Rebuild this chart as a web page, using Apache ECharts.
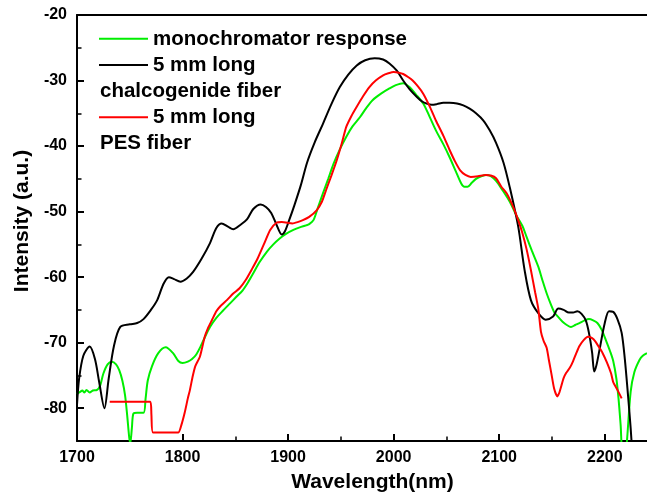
<!DOCTYPE html>
<html><head><meta charset="utf-8">
<script src="https://cdn.jsdelivr.net/npm/echarts@6/dist/echarts.min.js"></script>
<style>html,body{margin:0;padding:0;background:#fff}#c{width:647px;height:498px}</style>
</head><body><div id="c"></div>
<script>
// ---- data ----
const xTicks = [1700, 1800, 1900, 2000, 2100, 2200];
const xMinorTicks = [1750, 1850, 1950, 2050, 2150];
const yTicks = [-80, -70, -60, -50, -40, -30, -20];
const yMinorTicks = [-75, -65, -55, -45, -35, -25];

const seriesNames = ['monochromator response', '5 mm long chalcogenide fiber', '5 mm long PES fiber'];

// monochromator response (green)
const greenX = [1700,1703,1705,1707,1709,1712,1715,1719,1722,1725,1729,1733,1737,1740,1743,1745.5,1747.5,1749.5,1750.5,1752,1753.5,1757,1763,1765,1767,1771,1777,1784,1791,1796,1800,1805,1809,1813,1817,1821,1826,1832,1839,1845,1851,1857,1862,1867,1873,1880,1886,1892,1898,1905,1911,1917,1920,1924,1928,1933,1938,1943,1949,1955,1961,1968,1974,1980,1988,1996,2002,2009,2015,2021,2028,2034,2040,2047,2053,2059,2064,2067,2070,2074,2078,2083,2088,2092,2097,2103,2110,2116,2122,2126,2131,2137,2141,2145,2149,2152,2156,2160,2164,2168,2172,2176,2181,2185,2189,2193,2197,2201,2205,2208,2211,2213,2215,2217,2219.5,2221,2224.5,2228,2233,2236,2240];
const greenY = [-77.8,-77.5,-77.3,-77.6,-77.2,-77.6,-77.3,-77.2,-76.5,-74.7,-73.3,-72.9,-73.3,-74.2,-75.8,-78,-81,-84.5,-85.3,-83,-80.8,-80.7,-80.7,-78.5,-75.8,-73.6,-71.6,-70.7,-71.6,-72.8,-73.1,-72.9,-72.5,-71.8,-70.6,-69.2,-67.6,-66.2,-65.0,-64.0,-63.0,-62.0,-60.8,-59.4,-57.7,-56.1,-55.0,-54.1,-53.4,-52.8,-52.4,-52.1,-51.9,-51.3,-49.5,-47.2,-45.0,-42.7,-40.5,-38.6,-37.0,-35.6,-34.2,-33.0,-32.0,-31.2,-30.7,-30.4,-31.0,-32.1,-33.5,-35.5,-37.6,-39.7,-41.7,-43.9,-45.7,-46.2,-46.2,-45.6,-45.0,-44.6,-44.4,-44.6,-45.3,-46.7,-48.5,-50.5,-52.2,-53.9,-56.0,-58.4,-60.5,-62.5,-64.2,-65.3,-66.1,-66.8,-67.3,-67.6,-67.3,-67.0,-66.6,-66.4,-66.6,-67.0,-68.0,-69.6,-71.3,-72.8,-75.5,-78.5,-82.5,-87,-87,-85,-77.5,-74.5,-72.6,-72.0,-71.6];

// 5 mm long chalcogenide fiber (black)
const blackX = [1700,1702,1706,1712,1717,1721,1726,1730,1735,1741,1750,1757,1763,1770,1776,1782,1787,1792,1798,1804,1810,1818,1826,1832,1837,1843,1848,1855,1861,1867,1874,1879,1884,1889,1894,1897,1901,1906,1912,1918,1925,1933,1941,1949,1957,1965,1973,1982,1990,1996,2003,2009,2015,2022,2027,2031,2036,2041,2047,2053,2060,2066,2072,2078,2085,2091,2097,2104,2110,2118,2124,2130,2137,2144,2151,2156,2161,2166,2170,2174,2178,2182,2185,2188,2190,2192,2195,2200,2204,2208,2212,2216,2219,2222,2224.5,2226.5];
const blackY = [-79.5,-75.5,-72,-70.6,-72.5,-76,-80,-75.5,-70.5,-67.6,-67.2,-67.0,-66.4,-65,-63.5,-61,-60.0,-60.3,-60.7,-60.2,-59.2,-57.2,-54.8,-52.5,-51.8,-52.3,-52.7,-52.0,-51.2,-49.6,-48.9,-49.3,-50.2,-52.0,-53.5,-53.0,-51.3,-49.0,-46.0,-42.5,-39.5,-36.6,-33.6,-31.0,-29.1,-27.7,-26.9,-26.6,-26.8,-27.4,-28.5,-30.0,-31.3,-32.5,-33.2,-33.5,-33.7,-33.6,-33.4,-33.4,-33.5,-33.8,-34.3,-35.0,-36.1,-37.6,-39.5,-42.5,-46.3,-52.3,-58.9,-63.5,-65.5,-66.5,-66.0,-64.8,-65.0,-65.4,-65.4,-65.2,-65.6,-66.6,-68.5,-71.5,-74.4,-73.5,-71.1,-67.0,-65.2,-65.3,-66.4,-68.5,-72.5,-78,-83,-88];

// 5 mm long PES fiber (red)
const redX = [1731,1750,1769.5,1770.5,1772,1785,1796,1799,1802,1805,1807,1809.5,1812,1816.5,1821,1824,1828,1832,1836,1842,1848,1854,1860,1866,1871,1877,1883,1889,1894,1899,1904,1909,1914,1920,1927,1932,1936,1941,1946,1951,1955,1960,1965,1971,1977,1983,1990,1995,2000,2005,2009,2014,2018,2023,2028,2034,2040,2047,2053,2058,2063,2068,2073,2080,2087,2092,2097,2102,2107,2113,2118,2122,2126,2130,2134,2137,2139.5,2142,2145,2147,2149.5,2152,2155,2157,2159,2161,2163.5,2167,2170,2173,2176,2180,2184,2188,2191,2195,2198,2202,2206,2208,2212,2216];
const redY = [-79.0,-79.0,-79.0,-81,-83.7,-83.7,-83.7,-82.5,-80.7,-78.5,-77.2,-75.2,-73.6,-72.1,-69.1,-67.8,-66.5,-65.2,-64.4,-63.5,-62.5,-61.7,-60.4,-58.7,-57.2,-55.0,-52.8,-51.7,-51.6,-51.7,-51.8,-51.6,-51.3,-50.8,-49.8,-48.5,-46.7,-44.5,-42.2,-39.5,-37.1,-35.4,-34.0,-32.4,-31.0,-30.0,-29.2,-28.9,-28.7,-28.8,-29.0,-29.5,-30.0,-30.9,-32.0,-33.9,-36.1,-38.4,-40.6,-42.3,-43.7,-44.4,-44.7,-44.6,-44.4,-44.5,-44.9,-46.2,-47.2,-49.2,-51.3,-53.3,-55.8,-58.9,-62.3,-64.8,-68.3,-69.7,-70.8,-72.6,-74.8,-77.0,-78.2,-77.6,-76.5,-75.4,-74.6,-73.8,-72.8,-71.6,-70.5,-69.6,-69.1,-69.3,-69.8,-70.8,-71.6,-73.0,-74.7,-76.0,-77.2,-78.5];

const legendLines = ['monochromator response', '5 mm long', 'chalcogenide fiber', '5 mm long', 'PES fiber'];
// ---- end data ----

const FONT = 'Arial, "Liberation Sans", sans-serif';
const colors = ['#00ee00', '#000000', '#ff0000'];
const pair = (xs, ys) => xs.map((x, i) => [x, ys[i]]);

const chart = echarts.init(document.getElementById('c'), null, {renderer: 'canvas'});

const axisLineStyle = {color: '#000', width: 2};
const labelStyle = {fontSize: 16, fontWeight: 'bold', color: '#000', fontFamily: FONT};
const legendFont = 'bold 20.5px ' + FONT;

const option = {
  animation: false,
  backgroundColor: '#fff',
  grid: {left: 77, right: 0, top: 15, bottom: 56, containLabel: false},
  xAxis: [
    {
      type: 'value', min: 1700, max: 2240, position: 'bottom',
      name: 'Wavelength(nm)', nameLocation: 'middle', nameGap: 31,
      nameTextStyle: {fontSize: 21, fontWeight: 'bold', color: '#000', fontFamily: FONT, padding: [0, 0, 0, 21]},
      axisLine: {lineStyle: axisLineStyle},
      axisTick: {inside: true, length: 7, customValues: xTicks, lineStyle: {color: '#000', width: 2}},
      axisLabel: Object.assign({customValues: xTicks, margin: 9, formatter: v => String(v)}, labelStyle),
      splitLine: {show: false}
    },
    {
      type: 'value', min: 1700, max: 2240, position: 'bottom',
      axisLine: {show: false},
      axisTick: {inside: true, length: 4.5, customValues: xMinorTicks, lineStyle: {color: '#000', width: 1.5}},
      axisLabel: {show: false}, splitLine: {show: false}
    },
    {
      type: 'value', min: 1700, max: 2240, position: 'top',
      axisLine: {lineStyle: axisLineStyle},
      axisTick: {show: false}, axisLabel: {show: false}, splitLine: {show: false}
    }
  ],
  yAxis: [
    {
      type: 'value', min: -85, max: -20, position: 'left',
      name: 'Intensity (a.u.)', nameLocation: 'middle', nameGap: 43,
      nameTextStyle: {fontSize: 21, fontWeight: 'bold', color: '#000', fontFamily: FONT, padding: [0, 0, 0, 14]},
      axisLine: {lineStyle: axisLineStyle},
      axisTick: {inside: true, length: 7, customValues: yTicks, lineStyle: {color: '#000', width: 2}},
      axisLabel: Object.assign({customValues: yTicks, margin: 10, formatter: v => String(v)}, labelStyle),
      splitLine: {show: false}
    },
    {
      type: 'value', min: -85, max: -20, position: 'left',
      axisLine: {show: false},
      axisTick: {inside: true, length: 4.5, customValues: yMinorTicks, lineStyle: {color: '#000', width: 1.5}},
      axisLabel: {show: false}, splitLine: {show: false}
    }
  ],
  series: [
    {name: seriesNames[0], type: 'line', data: pair(greenX, greenY), xAxisIndex: 0, yAxisIndex: 0,
     showSymbol: false, symbol: 'none', smooth: 0.3, clip: true, lineStyle: {color: colors[0], width: 2}, z: 3},
    {name: seriesNames[1], type: 'line', data: pair(blackX, blackY), xAxisIndex: 0, yAxisIndex: 0,
     showSymbol: false, symbol: 'none', smooth: 0.3, clip: true, lineStyle: {color: colors[1], width: 2}, z: 4},
    {name: seriesNames[2], type: 'line', data: pair(redX, redY), xAxisIndex: 0, yAxisIndex: 0,
     showSymbol: false, symbol: 'none', smooth: 0.2, clip: true, lineStyle: {color: colors[2], width: 2}, z: 5}
  ],
  graphic: [
    {type: 'line', shape: {x1: 99, y1: 38.7, x2: 148, y2: 38.7}, style: {stroke: colors[0], lineWidth: 2}},
    {type: 'text', x: 153, y: 39.3, style: {text: legendLines[0], font: legendFont, fill: '#000', verticalAlign: 'middle'}},
    {type: 'line', shape: {x1: 99, y1: 65, x2: 148, y2: 65}, style: {stroke: colors[1], lineWidth: 2}},
    {type: 'text', x: 153, y: 65.3, style: {text: legendLines[1], font: legendFont, fill: '#000', verticalAlign: 'middle'}},
    {type: 'text', x: 100, y: 91.3, style: {text: legendLines[2], font: legendFont, fill: '#000', verticalAlign: 'middle'}},
    {type: 'line', shape: {x1: 99, y1: 117.3, x2: 148, y2: 117.3}, style: {stroke: colors[2], lineWidth: 2}},
    {type: 'text', x: 153, y: 117.8, style: {text: legendLines[3], font: legendFont, fill: '#000', verticalAlign: 'middle'}},
    {type: 'text', x: 100, y: 143.3, style: {text: legendLines[4], font: legendFont, fill: '#000', verticalAlign: 'middle'}}
  ]
};
chart.setOption(option);
</script>
</body></html>
